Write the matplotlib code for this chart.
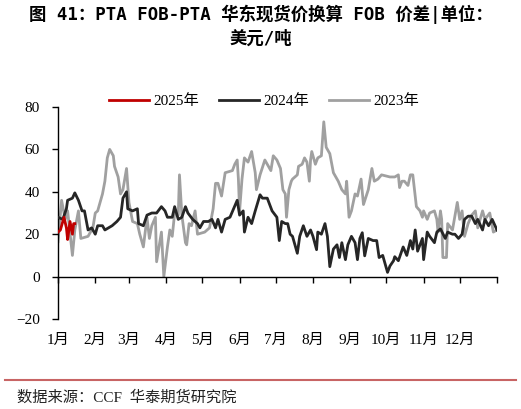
import matplotlib
matplotlib.use("Agg")
import matplotlib.pyplot as plt
from matplotlib.lines import Line2D

plt.rcParams['font.family'] = ['Liberation Serif', 'Noto Sans CJK SC', 'DejaVu Sans']

# 横轴：一年中的第几天
month_start = [0, 31, 59, 90, 120, 151, 181, 212, 243, 273, 304, 334, 365]
month_labels = ["1月", "2月", "3月", "4月", "5月", "6月", "7月", "8月",
                "9月", "10月", "11月", "12月", ""]

# 2023年
d23 = [0, 3, 6, 8, 12, 14, 17, 19, 25, 29, 31, 33, 37, 39, 41, 43, 46, 47, 50, 52,
       54, 57, 59, 62, 66, 68, 71, 74, 76, 78, 81, 82, 86, 88, 91, 93, 95, 97, 100, 101,
       103, 106, 107, 109, 111, 114, 116, 122, 126, 129, 131, 133, 136, 139, 145, 147, 149, 150, 151, 153,
       155, 158, 161, 164, 165, 168, 172, 175, 177, 179, 182, 185, 187, 189, 190, 192, 194, 195, 199, 200,
       203, 205, 207, 209, 210, 211, 214, 216, 219, 221, 223, 226, 229, 233, 236, 239, 240, 242, 244, 247,
       249, 252, 254, 258, 261, 263, 266, 269, 276, 280, 283, 284, 286, 288, 291, 293, 295, 298, 301, 303,
       304, 307, 309, 313, 315, 316, 318, 319, 320, 323, 324, 328, 332, 334, 336, 338, 341, 344, 347, 349,
       353, 355, 359, 362, 365]
v23 = [16.5, 36, 27, 31, 10, 22, 31, 18, 19, 23, 30, 31, 39, 45, 56, 60, 57, 52, 47, 39,
       41, 51, 35, 26, 25, 20, 14, 28, 18, 24, 28, 7, 21, 0, 14, 22, 19, 30, 29, 48,
       29, 16, 15, 25, 24, 31, 20, 21, 23, 32, 44, 44, 38, 49, 50, 53, 55, 46, 31, 46,
       56, 54, 59, 49, 41, 48, 55, 52, 50, 57, 55, 51, 41, 39, 28, 41, 45, 46, 48, 52,
       53, 56, 54, 45, 55, 59, 53, 56, 57, 73, 61, 58, 49, 45, 41, 39, 45, 28, 31, 39,
       38, 46, 34, 41, 51, 45, 46, 48, 47, 47, 48, 42, 45, 45, 43, 48, 48, 33, 31, 28,
       31, 27, 30, 31, 27, 21, 31, 27, 9, 9, 25, 22, 35, 27, 31, 19, 25, 29, 31, 23,
       31, 27, 30, 21, 22]

# 2024年
d24 = [0, 4, 7, 8, 12, 14, 17, 20, 22, 25, 28, 31, 33, 37, 39, 45, 49, 52, 54, 57,
       58, 62, 66, 67, 71, 74, 78, 82, 86, 89, 91, 95, 97, 100, 103, 106, 108, 112, 116, 118,
       121, 125, 128, 131, 133, 136, 139, 143, 149, 151, 154, 155, 158, 161, 164, 168, 170, 174, 178, 182,
       184, 186, 189, 191, 193, 195, 199, 201, 204, 207, 210, 212, 215, 216, 219, 222, 224, 226, 229, 232,
       234, 236, 239, 241, 244, 247, 249, 251, 253, 255, 258, 262, 265, 267, 270, 274, 276, 279, 280, 283,
       287, 290, 293, 295, 297, 299, 303, 304, 307, 309, 313, 315, 318, 322, 324, 328, 330, 333, 336, 338,
       341, 344, 347, 349, 353, 355, 358, 361, 365]
v24 = [28, 27, 32, 36, 37, 39.5, 36, 31, 31, 22, 23, 20, 24, 24, 22, 24, 26, 28, 37, 40,
       32, 31, 32, 25, 24, 29, 30, 30, 33, 31, 28, 28, 33, 27, 28, 33, 30, 27, 25, 23,
       26, 26, 27, 23, 27, 21, 27, 28, 36, 29, 31, 21, 28, 25, 31, 38.6, 37, 37, 31, 28,
       17, 26, 25, 25, 20, 19, 11, 19, 24, 19, 22, 19, 12.7, 21, 20, 25, 19, 4.7, 13, 15,
       9, 16, 8, 15, 19, 16, 8, 18, 20.7, 9.8, 18, 17, 17, 9, 10, 2, 5, 7.5, 9.4, 7.5,
       14, 10, 17, 13, 22, 12, 18, 8, 21, 19, 16, 21, 22.5, 18, 21, 20, 20, 18, 20, 27,
       28.5, 28.5, 25, 27, 22, 27, 24, 27, 22]

# 2025年
d25 = [0, 2, 5, 7, 8, 10, 12, 13, 14]
v25 = [21, 22, 28, 23, 17.5, 26, 20, 25, 25]

series_names = ["2025年", "2024年", "2023年"]

fig = plt.figure(figsize=(5.21, 4.09), dpi=100)
ax = fig.add_axes([0.1113, 0.220, 0.8426, 0.5184])

ax.plot(d23, v23, color="#A0A0A0", lw=2.0, label=series_names[2], zorder=2)
ax.plot(d24, v24, color="#262626", lw=2.0, label=series_names[1], zorder=3)
ax.plot(d25, v25, color="#C00000", lw=2.0, label=series_names[0], zorder=4)

ax.set_xlim(0, 365)
ax.set_ylim(-20, 80)
ax.set_yticks([-20, 0, 20, 40, 60, 80])
ax.set_xticks(month_start)
ax.set_xticklabels(month_labels)

ax.spines['top'].set_visible(False)
ax.spines['right'].set_visible(False)
ax.spines['bottom'].set_position(('data', 0))
for s in ['left', 'bottom']:
    ax.spines[s].set_linewidth(1.0)
    ax.spines[s].set_color("black")

ax.tick_params(axis='y', direction='out', length=4, width=1, pad=9, labelsize=11)
ax.tick_params(axis='x', direction='out', length=4, width=1, pad=37, labelsize=11)

handles, labels = ax.get_legend_handles_labels()
order = [2, 1, 0]
leg = ax.legend([handles[i] for i in order], [labels[i] for i in order],
                loc='lower center', bbox_to_anchor=(0.47, 0.965), ncol=3, frameon=False,
                fontsize=11, handlelength=2.6, columnspacing=1.3, handletextpad=0.3,
                borderaxespad=0)

fig.text(0.5, 1 - 5 / 409, "图 41：PTA FOB-PTA 华东现货价换算 FOB 价差|单位：\n美元/吨",
         ha='center', va='top', fontsize=12.5, fontweight='bold',
         family=['DejaVu Sans Mono', 'Noto Sans CJK SC'], linespacing=1.35)

fig.add_artist(Line2D([0.01, 0.99], [1 - 380 / 409, 1 - 380 / 409],
                      transform=fig.transFigure, color="#C86464", lw=1.5))
fig.text(0.033, 1 - 397 / 409, "数据来源：CCF  华泰期货研究院", ha='left', va='center',
         fontsize=11, color="#222222")

fig.savefig("out.png", dpi=100)
